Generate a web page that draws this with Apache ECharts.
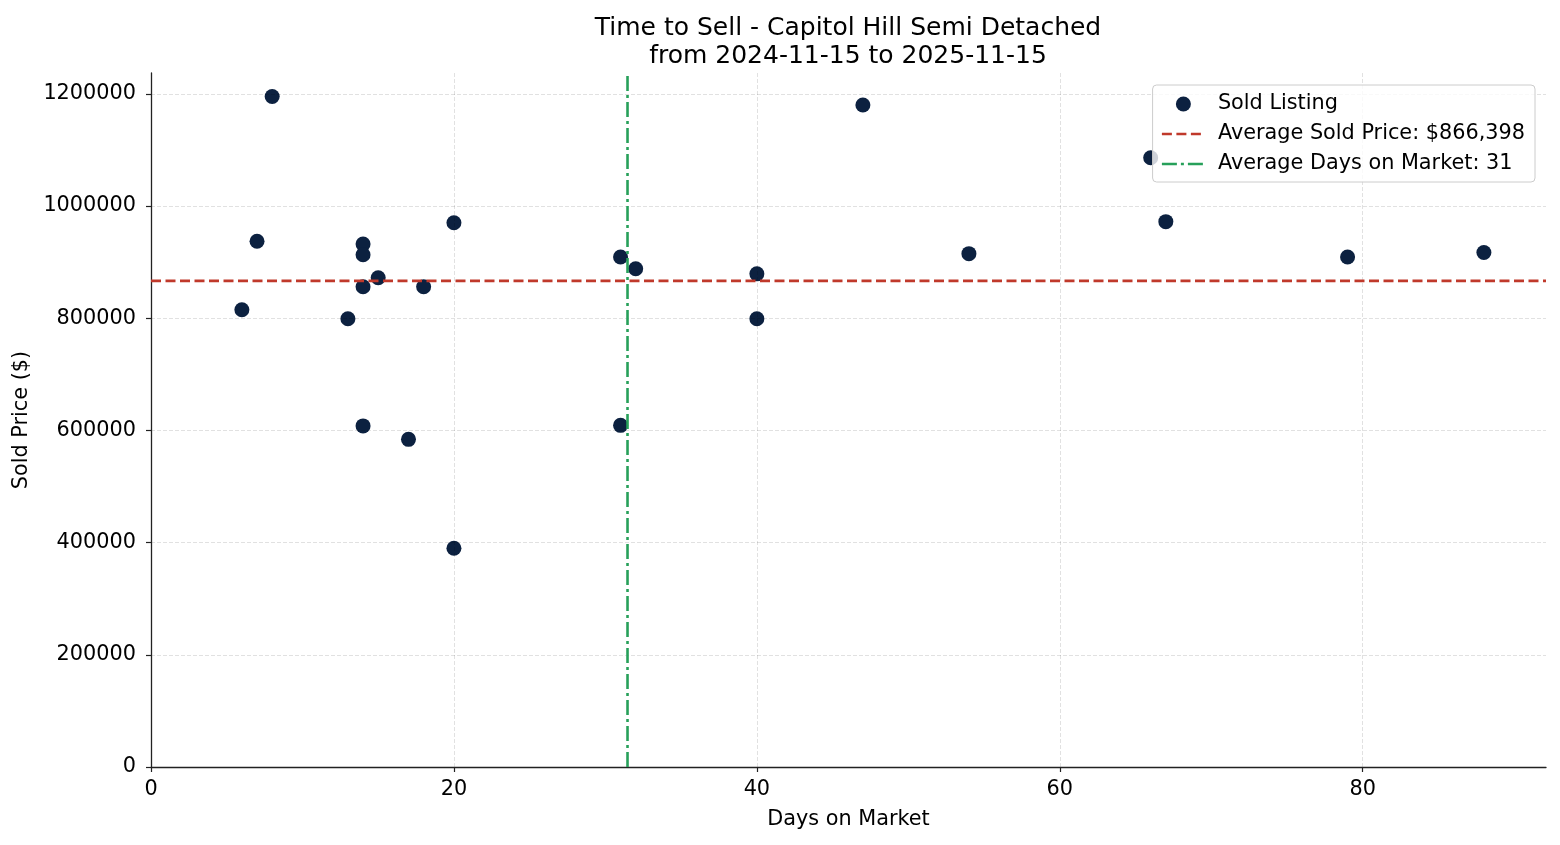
<!DOCTYPE html>
<html>
<head>
<meta charset="utf-8">
<script src="https://cdn.jsdelivr.net/npm/echarts@6/dist/echarts.min.js"></script>
<style>
  html, body { margin: 0; padding: 0; background: #fff; }
  #chart { width: 1560px; height: 845px; }
</style>
</head>
<body>
<div id="chart"></div>
<script>
// ---- data ----
const daysOnMarket = [8, 7, 6, 13, 14, 14, 14, 14, 15, 17, 18, 20, 20, 31, 31, 32, 40, 40, 47, 54, 66, 67, 79, 88];
const soldPrices = [1195000, 937000, 815000, 799000, 932000, 913000, 856000, 608000, 872000, 584000, 856000, 970000, 390000, 909000, 609000, 888000, 879000, 799000, 1180000, 915000, 1086000, 972000, 909000, 917000];
const avgPrice = 866398;
const avgDays = 31.46;
const xTicks = [0, 20, 40, 60, 80];
const yTicks = [0, 200000, 400000, 600000, 800000, 1000000, 1200000];
const xMax = 92.1;
const yMax = 1237000;
const titleLines = ['Time to Sell - Capitol Hill Semi Detached', 'from 2024-11-15 to 2025-11-15'];
const legendNames = ['Sold Listing', 'Average Sold Price: $866,398', 'Average Days on Market: 31'];

const points = daysOnMarket.map((d, i) => [d, soldPrices[i]]);
const FONT = 'DejaVu Sans';
const gridColor = 'rgba(0,0,0,0.15)';
const SMALL = 20.8;

const chart = echarts.init(document.getElementById('chart'), null, { renderer: 'canvas' });
chart.setOption({
  backgroundColor: '#ffffff',
  animation: false,
  textStyle: { fontFamily: FONT },
  title: {
    text: titleLines.join('\n'),
    left: 843,
    top: 9,
    textAlign: 'center',
    textStyle: { fontFamily: FONT, fontSize: 25, fontWeight: 'normal', color: '#000', lineHeight: 28 }
  },
  grid: { left: 151, right: 14, top: 73, bottom: 78, containLabel: false, outerBoundsMode: 'none' },
  legend: {
    orient: 'vertical',
    right: 25,
    top: 85,
    data: [
      { name: legendNames[0] },
      { name: legendNames[1], itemStyle: { color: 'rgba(0,0,0,0)', borderWidth: 0 }, lineStyle: { width: 2.6 } },
      { name: legendNames[2], itemStyle: { color: 'rgba(0,0,0,0)', borderWidth: 0 }, lineStyle: { width: 2.6 } }
    ],
    itemWidth: 43,
    itemHeight: 15,
    itemGap: 8,
    padding: [8, 10, 7, 8],
    backgroundColor: 'rgba(255,255,255,0.8)',
    borderColor: '#cccccc',
    borderWidth: 1,
    borderRadius: 4,
    textStyle: { fontFamily: FONT, fontSize: SMALL, color: '#000', lineHeight: 22, padding: [0, 0, 0, 8] }
  },
  xAxis: {
    type: 'value',
    min: 0,
    max: xMax,
    interval: 20,
    z: 3,
    name: 'Days on Market',
    nameLocation: 'middle',
    nameGap: 42,
    nameTextStyle: { fontFamily: FONT, fontSize: SMALL, color: '#000' },
    axisLine: { show: true, onZero: false, lineStyle: { color: '#222', width: 1.3 } },
    axisTick: { show: true, inside: false, length: 5, customValues: xTicks, lineStyle: { color: '#222', width: 1.2 } },
    axisLabel: { customValues: xTicks, margin: 12, fontFamily: FONT, fontSize: SMALL, color: '#000', formatter: v => String(v) },
    splitLine: { show: true, lineStyle: { color: [gridColor, gridColor, gridColor, gridColor, gridColor, 'rgba(0,0,0,0)'], type: [4, 2], width: 0.8 } }
  },
  yAxis: {
    type: 'value',
    min: 0,
    max: yMax,
    interval: 200000,
    z: 3,
    name: 'Sold Price ($)',
    nameLocation: 'middle',
    nameGap: 113,
    nameRotate: 90,
    nameTextStyle: { fontFamily: FONT, fontSize: SMALL, color: '#000' },
    axisLine: { show: true, onZero: false, lineStyle: { color: '#222', width: 1.3 } },
    axisTick: { show: true, inside: false, length: 5, customValues: yTicks, lineStyle: { color: '#222', width: 1.2 } },
    axisLabel: { customValues: yTicks, margin: 15, fontFamily: FONT, fontSize: SMALL, color: '#000', formatter: v => String(v) },
    splitLine: { show: true, lineStyle: { color: [gridColor, gridColor, gridColor, gridColor, gridColor, gridColor, gridColor, 'rgba(0,0,0,0)'], type: [4, 2], width: 0.8 } }
  },
  series: [
    {
      name: legendNames[0],
      type: 'scatter',
      data: points,
      symbol: 'circle',
      symbolSize: 15,
      z: 2,
      itemStyle: { color: '#0c2140', opacity: 1 }
    },
    {
      name: legendNames[1],
      type: 'line',
      data: [[0, avgPrice], [xMax, avgPrice]],
      symbol: 'none',
      z: 5,
      itemStyle: { color: '#c0392b' },
      lineStyle: { color: '#c0392b', width: 2.6, type: [10, 4.5] }
    },
    {
      name: legendNames[2],
      type: 'line',
      data: [[avgDays, 0], [avgDays, yMax]],
      symbol: 'none',
      z: 5,
      itemStyle: { color: '#27a05a' },
      lineStyle: { color: '#27a05a', width: 2.6, type: [15, 4, 3, 4] }
    }
  ]
});
</script>
</body>
</html>
